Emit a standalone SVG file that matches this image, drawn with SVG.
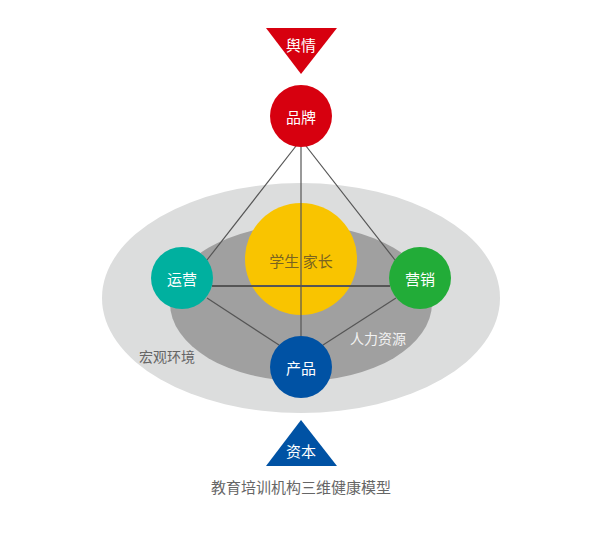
<svg xmlns="http://www.w3.org/2000/svg" width="606" height="543" viewBox="0 0 606 543">
<style>
text{font-family:"Noto Sans CJK SC",sans-serif;text-anchor:middle;dominant-baseline:central}
.w{fill:#fff;font-size:15px}
.l{stroke:#555;stroke-width:1.2;fill:none}
</style>
<rect width="606" height="543" fill="#fff"/>
<g id="outer"><ellipse cx="301" cy="298" rx="199" ry="115" fill="#dcdddd"/><text x="167" y="356" font-size="14" fill="#666">宏观环境</text></g>
<g id="inner"><ellipse cx="301" cy="303" rx="131" ry="78" fill="#a0a0a0"/><text x="378" y="338" font-size="14" fill="#f2f2f2">人力资源</text></g>
<g id="center"><circle cx="301" cy="259" r="56" fill="#f9c400"/><text x="301" y="260" font-size="15" fill="#7a6420">学生 家长</text></g>
<g id="connectors">
<line class="l" x1="301" y1="147" x2="301" y2="336"/>
<line class="l" x1="296" y1="146" x2="207" y2="260"/>
<line class="l" x1="306" y1="146" x2="395" y2="260"/>
<line x1="212" y1="286" x2="390" y2="286" stroke="#555" stroke-width="1.8"/>
<line class="l" x1="207" y1="298" x2="279" y2="345"/>
<line class="l" x1="396" y1="298" x2="323" y2="345"/>
</g>
<g id="yuqing"><polygon points="266,28 337,28 301,74" fill="#d7000f"/><text class="w" x="301" y="44">舆情</text></g>
<g id="pinpai"><circle cx="301" cy="116" r="31" fill="#d7000f"/><text class="w" x="301" y="116">品牌</text></g>
<g id="yunying"><circle cx="182" cy="278" r="31" fill="#00b09f"/><text class="w" x="182" y="278">运营</text></g>
<g id="yingxiao"><circle cx="420" cy="278" r="31" fill="#22ac38"/><text class="w" x="420" y="278">营销</text></g>
<g id="chanpin"><circle cx="301" cy="367" r="31" fill="#0052a4"/><text class="w" x="301" y="367">产品</text></g>
<g id="ziben"><polygon points="301,420 337,466 266,466" fill="#0052a4"/><text class="w" x="301" y="450">资本</text></g>
<text x="301" y="486" font-size="15" fill="#666">教育培训机构三维健康模型</text>
</svg>
